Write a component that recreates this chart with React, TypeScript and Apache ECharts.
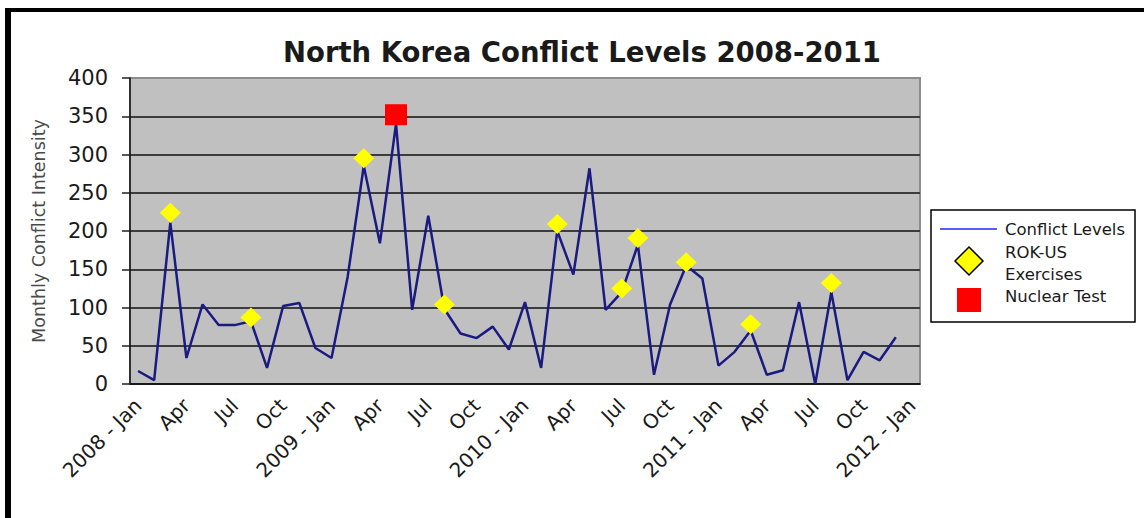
import React, { useEffect, useRef } from "react";
import * as echarts from "echarts";

// Month categories, Jan 2008 through Jan 2012 (every third one is labelled)
const months = [
  "2008 - Jan", "Feb", "Mar", "Apr", "May", "Jun", "Jul", "Aug", "Sep", "Oct", "Nov", "Dec",
  "2009 - Jan", "Feb", "Mar", "Apr", "May", "Jun", "Jul", "Aug", "Sep", "Oct", "Nov", "Dec",
  "2010 - Jan", "Feb", "Mar", "Apr", "May", "Jun", "Jul", "Aug", "Sep", "Oct", "Nov", "Dec",
  "2011 - Jan", "Feb", "Mar", "Apr", "May", "Jun", "Jul", "Aug", "Sep", "Oct", "Nov", "Dec",
  "2012 - Jan",
];

// Monthly conflict intensity, Jan 2008 - Dec 2011
const conflictLevels = [
  17, 5, 211, 34, 104, 77, 77, 82, 21, 102, 106, 47,
  34, 140, 285, 184, 340, 97, 220, 98, 66, 60, 75, 45,
  107, 21, 200, 143, 282, 97, 120, 182, 12, 104, 155, 138,
  24, 42, 70, 12, 18, 107, 0, 120, 5, 42, 31, 61,
];

// ROK-US exercises: month index and marker level
const exerciseMonthIndex = [2, 7, 14, 19, 26, 30, 31, 34, 38, 43];
const exerciseLevels = [224, 87, 295, 104, 209, 125, 191, 159, 78, 132];

// Nuclear test: month index and marker level
const nuclearMonthIndex = [16];
const nuclearLevels = [352];

const yMin = 0;
const yMax = 400;
const yStep = 50;

const FONT = "DejaVu Sans";

export default function App() {
  const ref = useRef<HTMLDivElement>(null);

  useEffect(() => {
    if (!ref.current) return;
    const chart = echarts.init(ref.current, undefined, { renderer: "svg" });

    const exercisePoints = exerciseMonthIndex.map((m, i) => [m, exerciseLevels[i]]);
    const nuclearPoints = nuclearMonthIndex.map((m, i) => [m, nuclearLevels[i]]);

    const gridLineColors = [
      "#000000", "#3c3c3c", "#3c3c3c", "#3c3c3c", "#3c3c3c",
      "#3c3c3c", "#3c3c3c", "#3c3c3c", "#8c8c8c",
    ];

    chart.setOption({
      animation: false,
      backgroundColor: "#ffffff",
      title: {
        text: "North Korea Conflict Levels 2008-2011",
        left: 283,
        top: 38,
        padding: 0,
        textStyle: {
          fontFamily: FONT,
          fontSize: 27.5,
          fontWeight: "bold",
          color: "#1a1a1a",
        },
      },
      grid: {
        left: 130,
        top: 78,
        width: 790,
        height: 306,
        show: true,
        backgroundColor: "#c0c0c0",
        borderColor: "#8c8c8c",
        borderWidth: 2,
      },
      xAxis: {
        type: "category",
        data: months,
        boundaryGap: true,
        axisLine: { show: true, lineStyle: { color: "#202020", width: 1.5 } },
        axisTick: { show: false },
        splitLine: { show: false },
        axisLabel: {
          interval: 2,
          rotate: 45,
          margin: 18,
          fontFamily: FONT,
          fontSize: 20,
          color: "#1a1a1a",
        },
      },
      yAxis: {
        type: "value",
        min: yMin,
        max: yMax,
        interval: yStep,
        name: "Monthly Conflict Intensity",
        nameLocation: "middle",
        nameGap: 82,
        nameTextStyle: {
          fontFamily: FONT,
          fontSize: 17.5,
          color: "#4a4a4a",
        },
        axisLine: { show: true, lineStyle: { color: "#101010", width: 1.5 } },
        axisTick: {
          show: true,
          length: 8,
          lineStyle: { color: "#202020", width: 1.5 },
        },
        axisLabel: {
          margin: 22,
          fontFamily: FONT,
          fontSize: 21,
          color: "#1a1a1a",
        },
        splitLine: {
          show: true,
          lineStyle: { color: gridLineColors, width: 2 },
        },
      },
      series: [
        {
          name: "Conflict Levels",
          type: "line",
          data: conflictLevels,
          symbol: "none",
          lineStyle: { color: "#1a1a80", width: 2.5 },
          z: 2,
        },
        {
          name: "ROK-US Exercises",
          type: "scatter",
          data: exercisePoints,
          symbol: "diamond",
          symbolSize: [21, 20],
          itemStyle: { color: "#ffff00", opacity: 1 },
          z: 3,
        },
        {
          name: "Nuclear Test",
          type: "scatter",
          data: nuclearPoints,
          symbol: "rect",
          symbolSize: [22, 21],
          itemStyle: { color: "#ff0000", opacity: 1 },
          z: 4,
        },
      ],
      graphic: [
        // outer frame
        { type: "rect", shape: { x: 5, y: 8, width: 6, height: 510 }, style: { fill: "#000" } },
        { type: "rect", shape: { x: 5, y: 8, width: 1139, height: 4 }, style: { fill: "#000" } },
        // legend box
        {
          type: "group",
          children: [
            {
              type: "rect",
              shape: { x: 931, y: 210, width: 204, height: 112 },
              style: { fill: "#ffffff", stroke: "#000000", lineWidth: 1.5 },
            },
            {
              type: "line",
              shape: { x1: 940, y1: 229, x2: 997, y2: 229 },
              style: { stroke: "#5c5cf2", lineWidth: 2 },
            },
            {
              type: "polygon",
              shape: { points: [[969, 247], [983, 261], [969, 275], [955, 261]] },
              style: { fill: "#ffff00", stroke: "#000000", lineWidth: 1.5 },
            },
            {
              type: "rect",
              shape: { x: 957, y: 288, width: 24, height: 24 },
              style: { fill: "#ff0000" },
            },
            {
              type: "text",
              style: {
                x: 1005, y: 229, text: "Conflict Levels",
                font: `16.5px "${FONT}"`, fill: "#1a1a1a", verticalAlign: "middle",
              },
            },
            {
              type: "text",
              style: {
                x: 1005, y: 252, text: "ROK-US",
                font: `16.5px "${FONT}"`, fill: "#1a1a1a", verticalAlign: "middle",
              },
            },
            {
              type: "text",
              style: {
                x: 1005, y: 274, text: "Exercises",
                font: `16.5px "${FONT}"`, fill: "#1a1a1a", verticalAlign: "middle",
              },
            },
            {
              type: "text",
              style: {
                x: 1005, y: 296, text: "Nuclear Test",
                font: `16.5px "${FONT}"`, fill: "#1a1a1a", verticalAlign: "middle",
              },
            },
          ],
        },
      ],
    });

    return () => {
      chart.dispose();
    };
  }, []);

  return (
    <div
      ref={ref}
      style={{ position: "fixed", left: 0, top: 0, width: 1144, height: 518, background: "#fff" }}
    />
  );
}
